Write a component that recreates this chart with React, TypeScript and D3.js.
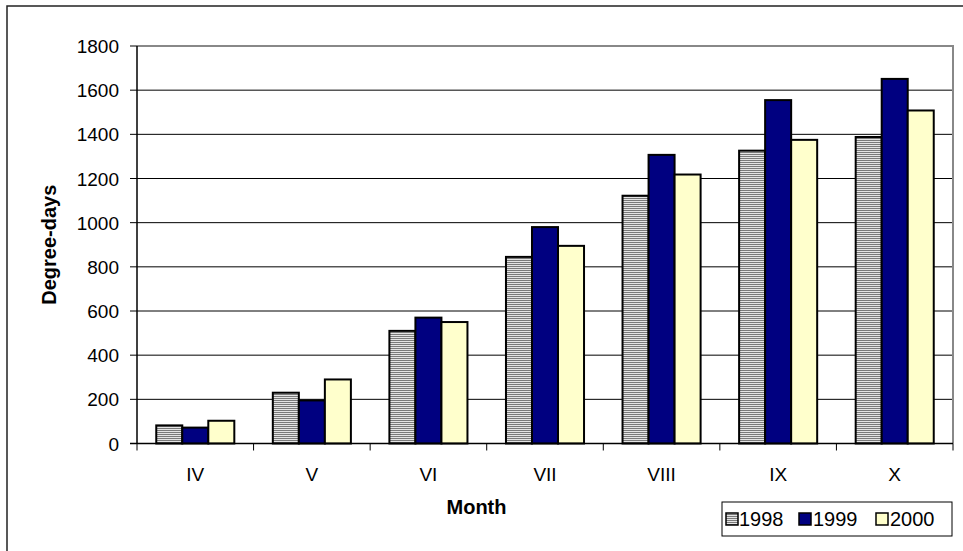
import React from 'react';
import * as d3 from 'd3';

const months = ['IV', 'V', 'VI', 'VII', 'VIII', 'IX', 'X'];
const years = ['1998', '1999', '2000'];
const values1998 = [82, 230, 510, 845, 1122, 1326, 1388];
const values1999 = [72, 195, 570, 980, 1307, 1555, 1651];
const values2000 = [103, 290, 550, 895, 1218, 1375, 1508];
const yTicks = [0, 200, 400, 600, 800, 1000, 1200, 1400, 1600, 1800];

const fills = ['url(#hatch)', '#000080', '#FFFFCC'];

export default function App() {
  const width = 963;
  const height = 551;
  const plot = { left: 137, right: 953, top: 46, bottom: 443.5 };
  const font = 'Arial, "Liberation Sans", sans-serif';

  const series = [values1998, values1999, values2000];

  const x = d3.scaleBand<string>().domain(months).range([plot.left, plot.right]);
  const inner = d3.scaleBand<string>().domain(years).range([0, x.bandwidth()]).paddingInner(0).paddingOuter(0.74);
  const y = d3.scaleLinear().domain([0, 1800]).range([plot.bottom, plot.top]);

  const legendItems = [
    { label: '1998', sx: 726, tx: 739 },
    { label: '1999', sx: 799, tx: 813 },
    { label: '2000', sx: 876, tx: 890 },
  ];

  return (
    <svg width={width} height={height} style={{ position: 'absolute', left: 0, top: 0 }} fontFamily={font}>
      <defs>
        <pattern id="hatch" width="4" height="2" patternUnits="userSpaceOnUse">
          <rect width="4" height="1" fill="#7a7a7a" />
          <rect y="1" width="4" height="1" fill="#e4e4e4" />
        </pattern>
      </defs>
      <rect x={0} y={0} width={width} height={height} fill="#fff" />
      {/* outer chart frame, runs off the right and bottom edges */}
      <rect x={7} y={6} width={width + 20} height={height + 20} fill="none" stroke="#222" strokeWidth={1.5} />

      {/* gridlines */}
      {yTicks.slice(1, -1).map(t => (
        <line key={t} x1={plot.left} x2={plot.right} y1={y(t)} y2={y(t)} stroke="#000" strokeWidth={1} />
      ))}
      {/* plot area border (top + right) */}
      <polyline
        points={`${plot.left},${plot.top} ${plot.right},${plot.top} ${plot.right},${plot.bottom}`}
        fill="none"
        stroke="#888"
        strokeWidth={2}
      />

      {/* bars */}
      {months.map((m, i) => (
        <g key={m} transform={`translate(${x(m)},0)`}>
          {series.map((vals, j) => (
            <rect
              key={j}
              x={inner(years[j])}
              y={y(vals[i])}
              width={inner.bandwidth()}
              height={y(0) - y(vals[i])}
              fill={fills[j]}
              stroke="#000"
              strokeWidth={2}
            />
          ))}
        </g>
      ))}

      {/* y axis */}
      <line x1={plot.left} x2={plot.left} y1={plot.top} y2={plot.bottom} stroke="#000" strokeWidth={1.5} />
      {yTicks.map(t => (
        <g key={t}>
          <line x1={plot.left - 7} x2={plot.left} y1={y(t)} y2={y(t)} stroke="#000" strokeWidth={1} />
          <text x={119} y={y(t) + 7} textAnchor="end" fontSize={19} fill="#000">{t}</text>
        </g>
      ))}

      {/* x axis */}
      <line x1={plot.left - 7} x2={plot.right} y1={y(0)} y2={y(0)} stroke="#000" strokeWidth={1.5} />
      {months.map(m => (
        <line key={m} x1={x(m)!} x2={x(m)!} y1={y(0)} y2={y(0) + 7} stroke="#000" strokeWidth={1} />
      ))}
      <line x1={plot.right} x2={plot.right} y1={y(0)} y2={y(0) + 7} stroke="#000" strokeWidth={1} />
      {months.map(m => (
        <text key={m} x={x(m)! + x.bandwidth() / 2} y={481} textAnchor="middle" fontSize={19} fill="#000">{m}</text>
      ))}

      {/* axis titles */}
      <text x={476.5} y={514} textAnchor="middle" fontSize={20} fontWeight="bold" fill="#000">Month</text>
      <text
        transform={`translate(56,${(plot.top + plot.bottom) / 2}) rotate(-90)`}
        textAnchor="middle"
        fontSize={20}
        fontWeight="bold"
        fill="#000"
      >Degree-days</text>

      {/* legend */}
      <rect x={722} y={502} width={230} height={34} fill="#fff" stroke="#000" strokeWidth={1} />
      {legendItems.map((d, j) => (
        <g key={d.label}>
          <rect x={d.sx} y={513} width={12} height={12} fill={fills[j]} stroke="#000" strokeWidth={1.5} />
          <text x={d.tx} y={526} fontSize={20} fill="#000">{d.label}</text>
        </g>
      ))}
    </svg>
  );
}
